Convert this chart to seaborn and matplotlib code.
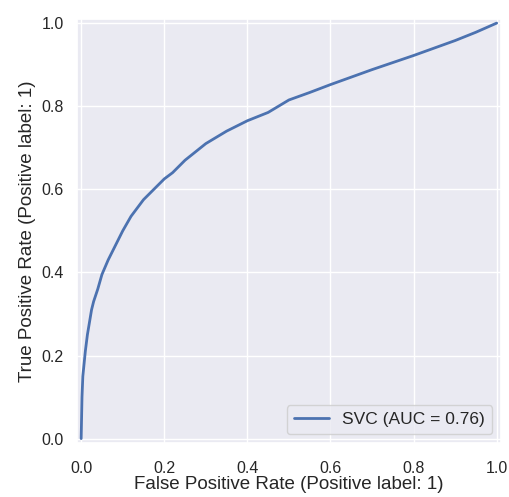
import numpy as np
import pandas as pd
import matplotlib
matplotlib.use("Agg")
import matplotlib.pyplot as plt
import seaborn as sns

sns.set_theme(font_scale=1.2)
plt.rcParams["font.family"] = ["Liberation Sans", "DejaVu Sans"]

# ROC curve points
fpr = [0.0, 0.001, 0.002, 0.004, 0.007, 0.01, 0.015, 0.02, 0.025, 0.03, 0.04, 0.05,
       0.065, 0.08, 0.1, 0.12, 0.15, 0.18, 0.2, 0.22, 0.25, 0.3, 0.35, 0.4, 0.45,
       0.5, 0.55, 0.6, 0.65, 0.7, 0.75, 0.8, 0.85, 0.9, 0.95, 1.0]
tpr = [0.0, 0.05, 0.10, 0.15, 0.18, 0.21, 0.25, 0.28, 0.31, 0.33, 0.36, 0.395,
       0.43, 0.46, 0.50, 0.535, 0.575, 0.605, 0.625, 0.64, 0.67, 0.71, 0.74, 0.765, 0.785,
       0.815, 0.833, 0.852, 0.87, 0.888, 0.905, 0.922, 0.94, 0.958, 0.978, 1.0]
auc_label = "SVC (AUC = 0.76)"

df = pd.DataFrame({"fpr": fpr, "tpr": tpr})

fig = plt.figure(figsize=(5.1, 4.97), dpi=100)
ax = fig.add_axes([0.151, 0.109, 0.831, 0.853])
sns.lineplot(data=df, x="fpr", y="tpr", ax=ax, label=auc_label,
             linewidth=2, sort=False, estimator=None)
ax.set(xlim=(-0.01, 1.01), ylim=(-0.01, 1.01), aspect="equal")
ax.set_xticks(np.arange(0, 1.01, 0.2))
ax.set_yticks(np.arange(0, 1.01, 0.2))
ax.tick_params(axis="both", labelsize=11.5)
ax.tick_params(axis="x", pad=7)
ax.set_xlabel("False Positive Rate (Positive label: 1)", fontsize=13.5, labelpad=0)
ax.set_ylabel("True Positive Rate (Positive label: 1)", fontsize=13.5)
ax.legend(loc="lower right", fontsize=12.5)

fig.savefig("out.png", dpi=100)
